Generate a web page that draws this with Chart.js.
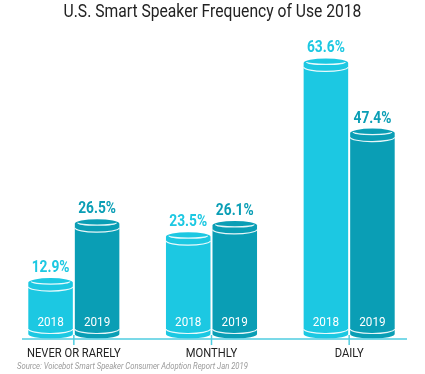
<!DOCTYPE html>
<html lang="en">
<head>
    <meta charset="UTF-8">
    <title>U.S. Smart Speaker Frequency of Use 2018</title>
    <script src="https://cdn.jsdelivr.net/npm/chart.js"></script>
    <style>
        body { margin: 0; background: #fff; }
        #wrap { width: 425px; height: 374px; position: relative; }
    </style>
</head>
<body>
<div id="wrap"><canvas id="speakerChart"></canvas></div>
<script>
    const categories = ["NEVER OR RARELY", "MONTHLY", "DAILY"];
    const years = ["2018", "2019"];
    const values2018 = [12.9, 23.5, 63.6];
    const values2019 = [26.5, 26.1, 47.4];
    const seriesColors = ["#1cc8e2", "#0a9eb5"];
    const titleText = "U.S. Smart Speaker Frequency of Use 2018";
    const sourceText = "Source: Voicebot Smart Speaker Consumer Adoption Report Jan 2019";

    // draw text squeezed horizontally, to get near a condensed face
    function drawNarrow(ctx, text, x, y, font, color, sx, align) {
        ctx.save();
        ctx.font = font;
        ctx.fillStyle = color;
        ctx.textAlign = align || "center";
        ctx.textBaseline = "alphabetic";
        ctx.translate(x, y);
        ctx.scale(sx, 1);
        ctx.fillText(text, 0, 0);
        ctx.restore();
    }

    function drawCylinder(ctx, cx, top, base, w, color) {
        const rx = w / 2, ry = 4.5;
        const x0 = cx - rx, x1 = cx + rx;
        ctx.save();
        ctx.fillStyle = color;
        ctx.beginPath();
        ctx.ellipse(cx, top + ry, rx, ry, 0, Math.PI, 2 * Math.PI);
        ctx.lineTo(x1, base);
        ctx.ellipse(cx, base, rx, ry, 0, 0, Math.PI);
        ctx.closePath();
        ctx.fill();

        ctx.strokeStyle = "rgba(255,255,255,0.9)";
        ctx.lineWidth = 1.2;
        // cap rim
        ctx.beginPath();
        ctx.ellipse(cx, top + ry - 1, rx - 3, ry - 2, 0, 0, Math.PI);
        ctx.stroke();
        // band under the cap
        ctx.beginPath();
        ctx.ellipse(cx, top + ry + 4, rx, ry, 0, 0.05, Math.PI - 0.05);
        ctx.stroke();
        // band near the bottom
        ctx.beginPath();
        ctx.ellipse(cx, base - 5, rx, ry, 0, 0.05, Math.PI - 0.05);
        ctx.stroke();
        ctx.restore();
    }

    const cylinderPlugin = {
        id: "cylinders",
        afterDatasetsDraw(chart) {
            const ctx = chart.ctx;
            chart.data.datasets.forEach((ds, di) => {
                const meta = chart.getDatasetMeta(di);
                meta.data.forEach((bar, i) => {
                    const color = seriesColors[di];
                    drawCylinder(ctx, bar.x, bar.y, bar.base, bar.width - 2, color);
                    drawNarrow(ctx, ds.data[i].toFixed(1) + "%", bar.x, bar.y - 6,
                        "bold 16px Roboto", color, 0.86);
                    drawNarrow(ctx, ds.label, bar.x, bar.base - 8,
                        "13px Roboto", "#ffffff", 0.9);
                });
            });
        },
        afterDraw(chart) {
            const ctx = chart.ctx;
            const area = chart.chartArea;
            const xs = chart.scales.x;
            const axisY = area.bottom + 5;

            // axis line with ticks at each category
            ctx.save();
            ctx.strokeStyle = "#4fcde0";
            ctx.lineWidth = 1.5;
            ctx.beginPath();
            ctx.moveTo(area.left + 17, axisY);
            ctx.lineTo(area.right - 11, axisY);
            ctx.stroke();
            categories.forEach((c, i) => {
                const x = xs.getPixelForValue(i);
                ctx.beginPath();
                ctx.moveTo(x, axisY - 4);
                ctx.lineTo(x, axisY + 6);
                ctx.stroke();
                drawNarrow(ctx, c, x, axisY + 18, "13px Roboto", "#222222", 0.86);
            });
            ctx.restore();

            drawNarrow(ctx, titleText, chart.width / 2, 17, "18px Roboto", "#222222", 0.87);
            drawNarrow(ctx, sourceText, 17, 369, "italic 8.5px Roboto", "#9a9a9a", 0.9, "left");
        }
    };

    new Chart(document.getElementById("speakerChart"), {
        type: "bar",
        data: {
            labels: categories,
            datasets: [
                { label: years[0], data: values2018, backgroundColor: "rgba(0,0,0,0)" },
                { label: years[1], data: values2019, backgroundColor: "rgba(0,0,0,0)" }
            ]
        },
        options: {
            responsive: true,
            maintainAspectRatio: false,
            animation: false,
            categoryPercentage: 0.676,
            barPercentage: 1,
            layout: { padding: { top: 22, bottom: 40, left: 5, right: 7 } },
            plugins: {
                legend: { display: false },
                tooltip: { enabled: false }
            },
            scales: {
                x: { display: false },
                y: { display: false, min: 0, max: 72 }
            }
        },
        plugins: [cylinderPlugin]
    });
</script>
</body>
</html>
